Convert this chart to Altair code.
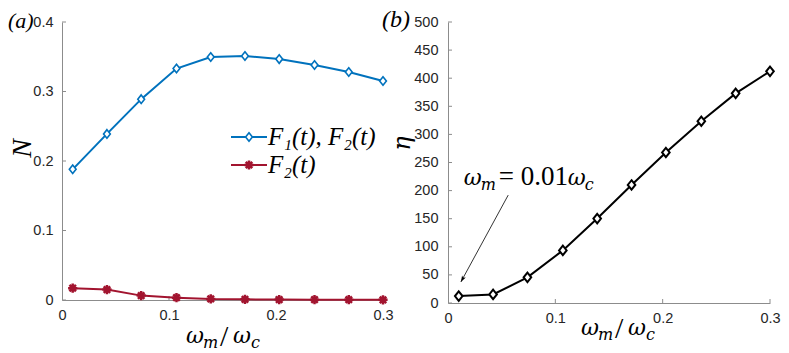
import altair as alt
import pandas as pd

# ---------------- data ----------------
x_vals = [0.01, 0.042, 0.074, 0.107, 0.139, 0.171, 0.203, 0.236, 0.268, 0.3]
n_f1f2 = [0.188, 0.239, 0.289, 0.333, 0.3495, 0.351, 0.3466, 0.338, 0.328, 0.315]
n_f2 = [0.017, 0.015, 0.0063, 0.0034, 0.0016, 0.001, 0.0006, 0.0005, 0.0004, 0.0003]
eta = [12.3, 15.2, 45.6, 93.6, 150.3, 210.0, 267.8, 323.4, 373.0, 412.3]

x_ticks = [0, 0.1, 0.2, 0.3]
left_yticks = [0, 0.1, 0.2, 0.3, 0.4]
right_yticks = [0, 50, 100, 150, 200, 250, 300, 350, 400, 450, 500]

legend_labels = ["F\u2081(t), F\u2082(t)", "F\u2082(t)"]

annot_x = [0.0147]
annot_y = [210.0]
arrow_start = [0.0561, 192.0]
arrow_end = [0.012, 37.4]

# ---------------- style ----------------
BLUE = "#0072BD"
RED = "#A2142F"
AX = "#8c8c8c"
LAB = "#262626"
SERIF = "Liberation Serif"
MATH = "DejaVu Serif"
SANS = "Liberation Sans"

DIAMOND = "M0,-1L0.8,0L0,1L-0.8,0Z"
ASTER = "M0,-1L0,1M-1,0L1,0M-0.7,-0.7L0.7,0.7M-0.7,0.7L0.7,-0.7"
HEAD = "M0,0L0.6,1.8L0,1.35L-0.6,1.8Z"

WA, HA = 321, 278
WB, HB = 322, 281
GAP = 65

df_a = pd.DataFrame({"x": x_vals, "f12": n_f1f2, "f2": n_f2})
df_b = pd.DataFrame({"x": x_vals, "eta": eta})

xscale = alt.Scale(domain=[0, 0.3], nice=False)
yscale_a = alt.Scale(domain=[0, 0.4], nice=False)
yscale_b = alt.Scale(domain=[0, 500], nice=False)

XAXIS = alt.Axis(values=x_ticks, format="~g", title=None, labelPadding=8,
                 labelFlush=False, labelOverlap=False)
YAXIS_A = alt.Axis(values=left_yticks, format="~g", title="N", labelPadding=9,
                   labelFlush=False, labelOverlap=False,
                   titleX=-40, titleY=126, titleAngle=-90, titleFont=SERIF,
                   titleFontStyle="italic", titleFontWeight="normal",
                   titleFontSize=28, titleColor="black", titleAlign="center",
                   titleBaseline="middle")
YAXIS_B = alt.Axis(values=right_yticks, format="d", title="\u03b7", labelPadding=10,
                   labelFlush=False, labelOverlap=False,
                   titleX=-46, titleY=121, titleAngle=-90, titleFont=MATH,
                   titleFontStyle="italic", titleFontWeight="normal",
                   titleFontSize=24, titleColor="black", titleAlign="center",
                   titleBaseline="middle")


def X(field):
    return alt.X(field, scale=xscale, axis=XAXIS)


def YA(field):
    return alt.Y(field, scale=yscale_a, axis=YAXIS_A)


def YB(field):
    return alt.Y(field, scale=yscale_b, axis=YAXIS_B)


def text_px(txt, x, y, size, style="italic", font=SERIF, baseline="alphabetic", color="black"):
    return alt.Chart(pd.DataFrame({"t": [txt]})).mark_text(
        font=font, fontSize=size, fontStyle=style, align="left",
        baseline=baseline, color=color
    ).encode(text="t:N", x=alt.value(x), y=alt.value(y))


def math_title(x0, y0):
    # omega_m / omega_c built from pieces
    return [
        text_px("\u03c9", x0, y0, 22, font=MATH),
        text_px("m", x0 + 17, y0 + 5, 16, font=MATH),
        text_px("/", x0 + 34, y0 + 3, 30, style="normal", font=SERIF),
        text_px("\u03c9", x0 + 47, y0, 22, font=MATH),
        text_px("c", x0 + 65, y0 + 5, 16, font=MATH),
    ]


# ---------------- panel (a) ----------------
base_a = alt.Chart(df_a)
line_f12 = base_a.mark_line(color=BLUE, strokeWidth=2).encode(x=X("x:Q"), y=YA("f12:Q"))
pts_f12 = base_a.mark_point(shape=DIAMOND, filled=True, fill="white", stroke=BLUE,
                            strokeWidth=1.6, size=72, opacity=1).encode(x=X("x:Q"), y=YA("f12:Q"))
line_f2 = base_a.mark_line(color=RED, strokeWidth=2).encode(x=X("x:Q"), y=YA("f2:Q"))
pts_f2 = base_a.mark_point(shape=ASTER, filled=False, stroke=RED, strokeWidth=2.5,
                           size=85, opacity=1).encode(x=X("x:Q"), y=YA("f2:Q"))

yt_a = alt.Chart(pd.DataFrame({"v": left_yticks})).mark_rule(color=AX).encode(
    y=YA("v:Q"), x=alt.value(0), x2=alt.value(4))
xt_a = alt.Chart(pd.DataFrame({"v": x_ticks[1:]})).mark_rule(color=AX).encode(
    x=X("v:Q"), y=alt.value(HA), y2=alt.value(HA - 4))

# legend (manual)
leg_rows = [115, 143]
leg_layers = []
for lab, yy, col, shp in zip(legend_labels, leg_rows, [BLUE, RED], [DIAMOND, ASTER]):
    one = alt.Chart(pd.DataFrame({"t": [lab]}))
    leg_layers.append(one.mark_rule(color=col, strokeWidth=2).encode(
        x=alt.value(169), x2=alt.value(205), y=alt.value(yy)))
    if shp == DIAMOND:
        leg_layers.append(one.mark_point(shape=shp, filled=True, fill="white", stroke=col,
                                          strokeWidth=1.6, size=72, opacity=1).encode(
            x=alt.value(187), y=alt.value(yy)))
    else:
        leg_layers.append(one.mark_point(shape=shp, filled=False, stroke=col,
                                          strokeWidth=2.5, size=85, opacity=1).encode(
            x=alt.value(187), y=alt.value(yy)))
    leg_layers.append(one.mark_text(font=SERIF, fontSize=25, fontStyle="italic",
                                    align="left", baseline="middle", color="black").encode(
        text="t:N", x=alt.value(206), y=alt.value(yy)))

panel_a = alt.layer(
    yt_a, xt_a, line_f2, pts_f2, line_f12, pts_f12, *leg_layers,
    text_px("(a)", -54, -1, 22, baseline="middle"),
    *math_title(124, 321),
).properties(width=WA, height=HA)

# ---------------- panel (b) ----------------
base_b = alt.Chart(df_b)
line_b = base_b.mark_line(color="black", strokeWidth=2).encode(x=X("x:Q"), y=YB("eta:Q"))
pts_b = base_b.mark_point(shape=DIAMOND, filled=True, fill="white", stroke="black",
                          strokeWidth=2, size=90, opacity=1).encode(x=X("x:Q"), y=YB("eta:Q"))

yt_b = alt.Chart(pd.DataFrame({"v": right_yticks})).mark_rule(color=AX).encode(
    y=YB("v:Q"), x=alt.value(0), x2=alt.value(4))
xt_b = alt.Chart(pd.DataFrame({"v": x_ticks[1:]})).mark_rule(color=AX).encode(
    x=X("v:Q"), y=alt.value(HB), y2=alt.value(HB - 4))

arrow_df = pd.DataFrame({"x": [arrow_start[0]], "y": [arrow_start[1]],
                         "x2": [arrow_end[0]], "y2": [arrow_end[1]]})
arrow_line = alt.Chart(arrow_df).mark_rule(color="black", strokeWidth=0.8).encode(
    x=X("x:Q"), y=YB("y:Q"), x2="x2:Q", y2="y2:Q")
arrow_head = alt.Chart(arrow_df).mark_point(shape=HEAD, filled=True, color="black",
                                            size=49, opacity=1, angle=208.9).encode(
    x=X("x2:Q"), y=YB("y2:Q"))

ann_df = pd.DataFrame({"x": annot_x, "y": annot_y})


def ann_piece(txt, dx, dy, size, style="italic", font=MATH):
    return alt.Chart(ann_df.assign(t=txt)).mark_text(
        font=font, fontSize=size, fontStyle=style, align="left", baseline="alphabetic",
        dx=dx, dy=dy, color="black"
    ).encode(x=X("x:Q"), y=YB("y:Q"), text="t:N")


ann_layers = [
    ann_piece("\u03c9", 0, 0, 22),
    ann_piece("m", 17, 5, 16),
    ann_piece("= 0.01", 35, 0, 27, style="normal", font=SERIF),
    ann_piece("\u03c9", 104, 0, 22),
    ann_piece("c", 121, 5, 16),
]

panel_b = alt.layer(
    yt_b, xt_b, line_b, pts_b, arrow_line, arrow_head, *ann_layers,
    text_px("(b)", -66, -2, 24, baseline="middle"),
    *math_title(133, 313),
).properties(width=WB, height=HB)

chart = alt.hconcat(panel_a, panel_b, spacing=GAP, bounds="flush").properties(
    padding=0
).configure_view(stroke=None).configure_axis(
    grid=False, ticks=False, domainColor=AX, domainWidth=1,
    labelFont=SANS, labelFontSize=14.5, labelColor=LAB,
)

chart.save("out.html", embed_options={"renderer": "svg", "actions": False})
